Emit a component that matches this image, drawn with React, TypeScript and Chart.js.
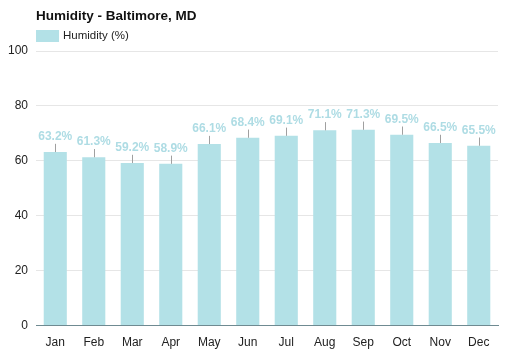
import React, { useEffect, useRef } from "react";
import { Chart, registerables } from "chart.js";

Chart.register(...registerables);

const months = ["Jan", "Feb", "Mar", "Apr", "May", "Jun", "Jul", "Aug", "Sep", "Oct", "Nov", "Dec"];
const humidity = [63.2, 61.3, 59.2, 58.9, 66.1, 68.4, 69.1, 71.1, 71.3, 69.5, 66.5, 65.5];
const errorUp = [3, 3, 3, 3, 3, 3, 3, 3, 3, 3, 3, 3];
const yTicks = [0, 20, 40, 60, 80, 100];
const titleText = "Humidity - Baltimore, MD";
const legendText = "Humidity (%)";

const FONT = "Arial, 'Liberation Sans', sans-serif";
const BAR = "#b3e1e7";
const LABEL = "#aedce4";

const overlay = {
  id: "overlay",
  afterDatasetsDraw(chart: any) {
    const ctx = chart.ctx;
    const meta = chart.getDatasetMeta(0);
    const y = chart.scales.y;
    ctx.save();
    meta.data.forEach((bar: any, i: number) => {
      const top = y.getPixelForValue(humidity[i] + errorUp[i]);
      ctx.strokeStyle = "#a0a0a0";
      ctx.lineWidth = 1;
      ctx.beginPath();
      ctx.moveTo(Math.round(bar.x) + 0.5, bar.y);
      ctx.lineTo(Math.round(bar.x) + 0.5, top);
      ctx.stroke();
      ctx.fillStyle = LABEL;
      ctx.font = `bold 12px ${FONT}`;
      ctx.textAlign = "center";
      ctx.textBaseline = "bottom";
      ctx.fillText(humidity[i].toFixed(1) + "%", bar.x, top - 1);
    });
    const left = chart.chartArea.left;
    ctx.fillStyle = "#111";
    ctx.font = `bold 13.5px ${FONT}`;
    ctx.textAlign = "left";
    ctx.textBaseline = "middle";
    ctx.fillText(titleText, left, 16);
    ctx.fillStyle = BAR;
    ctx.fillRect(left, 30, 23, 12);
    ctx.fillStyle = "#222";
    ctx.font = `11.5px ${FONT}`;
    ctx.fillText(legendText, left + 27, 36);
    ctx.restore();
  },
};

export default function App() {
  const ref = useRef<HTMLCanvasElement>(null);
  useEffect(() => {
    if (!ref.current) return;
    const chart = new Chart(ref.current, {
      type: "bar",
      data: {
        labels: months,
        datasets: [
          {
            label: legendText,
            data: humidity,
            backgroundColor: BAR,
            borderWidth: 0,
            categoryPercentage: 0.6,
            barPercentage: 1,
          },
        ],
      },
      options: {
        responsive: false,
        animation: false,
        layout: { padding: { top: 51, right: 14, left: 0, bottom: 6 } },
        plugins: {
          legend: { display: false },
          title: { display: false },
          tooltip: { enabled: false },
        },
        scales: {
          x: {
            grid: { display: false },
            border: { display: true, color: "#6f8a91" },
            ticks: { color: "#222", font: { family: FONT, size: 12 }, padding: 2 },
          },
          y: {
            min: 0,
            max: 100,
            afterBuildTicks: (axis: any) => {
              axis.ticks = yTicks.map((v) => ({ value: v }));
            },
            grid: { color: "#e6e6e6", drawTicks: false },
            border: { display: false },
            ticks: { color: "#222", font: { family: FONT, size: 12 }, padding: 8 },
          },
        },
      },
      plugins: [overlay],
    });
    return () => chart.destroy();
  }, []);
  return (
    <canvas
      ref={ref}
      width={512}
      height={358}
      style={{ position: "fixed", left: 0, top: 0, width: 512, height: 358, background: "#fff" }}
    />
  );
}
